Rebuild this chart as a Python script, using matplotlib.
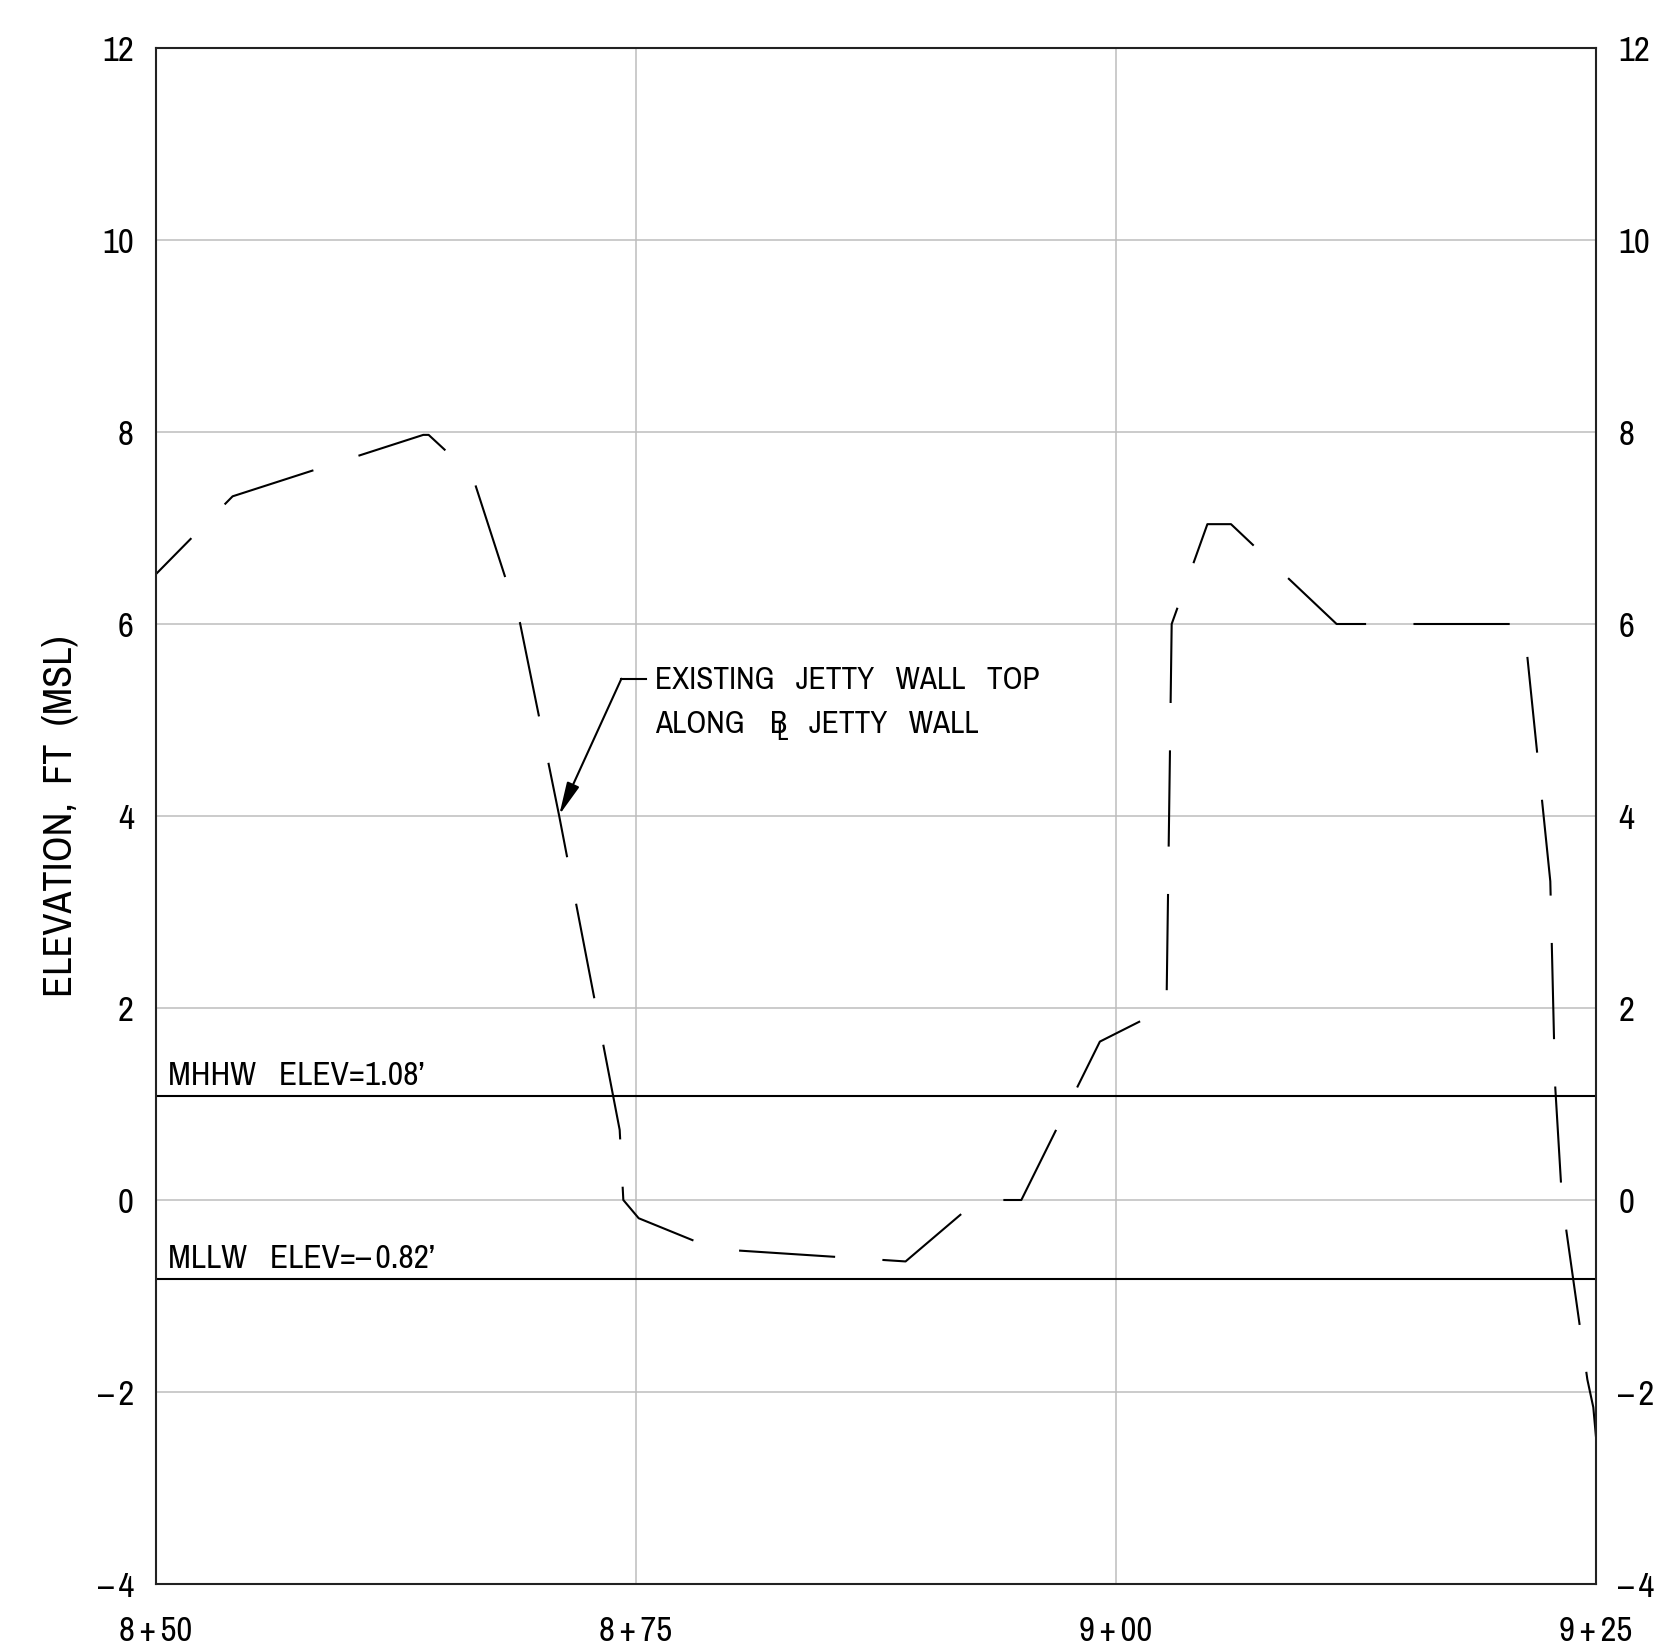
import matplotlib
matplotlib.use("Agg")
import matplotlib.pyplot as plt
from matplotlib import font_manager as fm

# pick a narrow face if one is installed, otherwise condensed DejaVu
fonts = fm.fontManager.ttflist
narrow = sorted({f.name for f in fonts if 'Narrow' in f.name or 'Condensed' in f.name})
stretch = 'normal'
if narrow:
    family = narrow[0]
elif any(f.name == 'DejaVu Sans' and f.stretch in ('condensed', 'semi-condensed', 587) for f in fonts):
    family = 'DejaVu Sans'
    stretch = 'condensed'
else:
    family = 'DejaVu Sans'
narrow_ok = bool(narrow) or stretch == 'condensed'
k = 1.0 if narrow_ok else 0.82

plt.rcParams['font.family'] = [family, 'DejaVu Sans']
plt.rcParams['font.stretch'] = stretch
plt.rcParams['lines.scale_dashes'] = False

# station (ft) and elevation (ft MSL) of the existing jetty wall top
station = [850.0, 853.99, 863.92, 864.2, 866.47, 868.96, 871.0, 874.15, 874.34,
           875.14, 879.07, 889.04, 892.8, 895.07, 899.16, 902.63, 902.9, 904.76,
           905.99, 911.49, 921.25, 922.62, 922.87, 923.23, 924.55, 924.86, 925.0]
elev = [6.52, 7.33, 7.97, 7.97, 7.55, 6.01, 4.0, 0.73, 0.0,
        -0.19, -0.51, -0.64, 0.0, 0.0, 1.65, 2.0, 6.0, 7.04,
        7.04, 6.0, 6.0, 3.32, 1.2, 0.0, -1.87, -2.16, -2.47]

mhhw = 1.08
mllw = -0.82

x_ticks = [850, 875, 900, 925]
x_labels = ['8\u2009+\u200950', '8\u2009+\u200975', '9\u2009+\u200900', '9\u2009+\u200925']
y_ticks = [-4, -2, 0, 2, 4, 6, 8, 10, 12]
y_labels = ['\u2013\u20094', '\u2013\u20092', '0', '2', '4', '6', '8', '10', '12']

fig = plt.figure(figsize=(16.67, 16.48), dpi=100)
ax = fig.add_axes([156/1667, 1 - 1584/1648, 1440/1667, 1536/1648])

ax.set_xlim(850, 925)
ax.set_ylim(-4, 12)
ax.set_xticks(x_ticks)
ax.set_xticklabels(x_labels)
ax.set_yticks(y_ticks)
ax.set_yticklabels(y_labels)
ax.grid(True, color='#bdbdbd', linewidth=1.1)
ax.set_axisbelow(True)

for s in ax.spines.values():
    s.set_linewidth(1.5)
    s.set_color('#222222')

ax.tick_params(axis='x', length=0, pad=22, labelsize=25 * k)
ax.tick_params(axis='y', length=0, pad=16, labelsize=25 * k, labelleft=True, labelright=True)

# profile, long dash
ax.plot(station, elev, color='black', linewidth=1.5,
        linestyle=(33, (69.3, 34.1)), solid_joinstyle='miter')

# tidal datums
ax.axhline(mhhw, color='black', linewidth=1.5)
ax.axhline(mllw, color='black', linewidth=1.5)
ax.text(850.63, mhhw + 0.12, "MHHW   ELEV=1.08\u2019", fontsize=24 * k)
ax.text(850.63, mllw + 0.11, "MLLW   ELEV=\u2013\u20090.82\u2019", fontsize=24 * k)

# callout
ax.annotate("", xy=(871.0, 4.01), xytext=(874.24, 5.43),
            arrowprops=dict(arrowstyle='-|>,head_length=1.0,head_width=0.2',
                            mutation_scale=20, color='black', linewidth=1.5,
                            shrinkA=0, shrinkB=0))
ax.plot([874.24, 875.5], [5.43, 5.43], color='black', linewidth=1.5)
ax.text(876.0, 5.32, "EXISTING   JETTY   WALL   TOP", fontsize=22.5 * k)
ax.text(876.0, 4.86, "ALONG", fontsize=22.5 * k)
ax.text(881.96, 4.86, "B", fontsize=22.5 * k)
ax.text(882.3, 4.79, "L", fontsize=18 * k)
ax.text(884.01, 4.86, "JETTY   WALL", fontsize=22.5 * k)

fig.text(60/1667, 1 - 816/1648, "ELEVATION,  FT  (MSL)", rotation=90,
         ha='center', va='center', fontsize=29 * k)

fig.savefig("out.png", dpi=100, facecolor='white')
